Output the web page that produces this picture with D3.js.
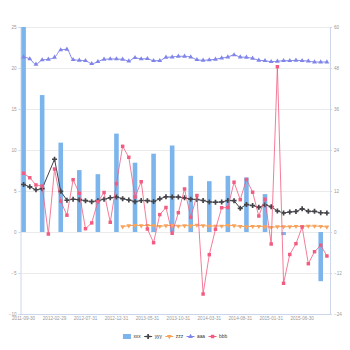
<!DOCTYPE html>
<html>
<head>
<meta charset="utf-8">
<script src="https://cdn.jsdelivr.net/npm/d3@7"></script>
<style>
  html, body { margin: 0; padding: 0; background: #fff; }
  svg { display: block; font-family: "Liberation Sans", Arial, sans-serif; }
</style>
</head>
<body>
<svg id="chart" width="350" height="350"></svg>
<script>
// Monthly categories (month-end dates)
const categories = [
  "2011-09-30","2011-10-31","2011-11-30","2011-12-31","2012-01-31","2012-02-29",
  "2012-03-31","2012-04-30","2012-05-31","2012-06-30","2012-07-31","2012-08-31",
  "2012-09-30","2012-10-31","2012-11-30","2012-12-31","2013-01-31","2013-02-28",
  "2013-03-31","2013-04-30","2013-05-31","2013-06-30","2013-07-31","2013-08-31",
  "2013-09-30","2013-10-31","2013-11-30","2013-12-31","2014-01-31","2014-02-28",
  "2014-03-31","2014-04-30","2014-05-31","2014-06-30","2014-07-31","2014-08-31",
  "2014-09-30","2014-10-31","2014-11-30","2014-12-31","2015-01-31","2015-02-28",
  "2015-03-31","2015-04-30","2015-05-31","2015-06-30","2015-07-31","2015-08-31",
  "2015-09-30","2015-10-31"
];

// Labels shown on the category axis
const xTickLabels = [
  "2011-09-30","2012-02-29","2012-07-31","2012-12-31","2013-05-31",
  "2013-10-31","2014-03-31","2014-08-31","2015-01-31","2015-06-30"
];

// Quarterly bars (left axis)
const xxx = [
  25, null, null, 16.7, null, null, 10.9, null, null, 7.55,
  null, null, 7.05, null, null, 12.0, null, null, 8.45, null,
  null, 9.55, null, null, 10.55, null, null, 6.85, null, null,
  6.2, null, null, 6.85, null, null, 6.65, null, null, 4.62,
  null, null, -0.38, null, null, null, null, null, -6.0, null
];

// Left axis line series
const yyy = [
  5.79, 5.51, 5.15, 5.28, null, 8.87, 4.96, 3.87, 3.99, 3.94,
  3.82, 3.70, 3.82, 3.99, 4.18, 4.27, 4.06, 3.90, 3.70, 3.84,
  3.82, 3.72, 4.05, 4.30, 4.27, 4.27, 4.17, 4.00, 3.96, 3.84,
  3.66, 3.63, 3.66, 3.84, 3.82, 2.89, 3.35, 3.23, 3.01, 3.32,
  3.09, 2.56, 2.32, 2.44, 2.50, 2.83, 2.52, 2.52, 2.35, 2.32
];

const zzz = [
  null, null, null, null, null, null, null, null, null, null,
  null, null, null, null, null, null, 0.65, 0.77, 0.81, 0.77,
  0.81, 0.77, 0.69, 0.77, 0.81, 0.73, 0.77, 0.77, 0.85, 0.77,
  0.73, 0.73, 0.73, 0.81, 0.77, 0.69, 0.65, 0.69, 0.69, 0.65,
  0.57, 0.65, 0.65, 0.65, 0.69, 0.69, 0.73, 0.73, 0.69, 0.61
];

const aaa = [
  21.34, 21.10, 20.45, 20.98, 21.06, 21.30, 22.20, 22.28, 21.01, 20.94,
  20.89, 20.52, 20.77, 21.06, 21.10, 21.10, 21.06, 20.85, 21.26, 21.10,
  21.13, 20.89, 20.89, 21.30, 21.34, 21.43, 21.43, 21.34, 21.01, 20.94,
  20.98, 21.06, 21.22, 21.34, 21.59, 21.34, 21.30, 21.18, 20.94, 20.89,
  20.77, 20.82, 20.89, 20.89, 20.94, 20.89, 20.85, 20.73, 20.73, 20.73
];

// Right axis series
const bbb = [
  17.18, 15.89, 13.76, 13.46, -0.59, 18.44, 8.99, 4.92, 15.31, 11.33,
  0.97, 2.66, 8.87, 11.56, 2.84, 14.14, 25.08, 21.86, 10.24, 14.72,
  0.88, -3.13, 5.09, 7.17, -0.38, 5.65, 12.59, 4.30, 10.68, -18.15,
  -6.64, 0.79, 7.11, 7.17, 14.58, 9.45, 15.37, 11.65, 4.68, 9.60,
  -3.51, 48.38, -15.01, -6.59, -3.42, 1.46, -9.28, -5.77, -3.86, -7.02
];

const leftTicks = [-10, -5, 0, 5, 10, 15, 20, 25];
const rightTicks = [-24, -12, 0, 12, 24, 36, 48, 60];

const colors = {
  xxx: "#7cb5ec",
  yyy: "#434348",
  zzz: "#f7a35c",
  aaa: "#8085e9",
  bbb: "#f15c80"
};

const svg = d3.select("#chart");
const plot = { left: 20.5, right: 330, top: 27, bottom: 314 };

const x = d3.scaleBand().domain(categories).range([plot.left, plot.right]);
const yL = d3.scaleLinear().domain([-10, 25]).range([plot.bottom, plot.top]);
const yR = d3.scaleLinear().domain([-24, 60]).range([plot.bottom, plot.top]);
const cx = d => x(d) + x.bandwidth() / 2;

// Horizontal grid lines
svg.append("g")
  .selectAll("line")
  .data(leftTicks)
  .join("line")
  .attr("x1", plot.left).attr("x2", plot.right)
  .attr("y1", d => Math.round(yL(d)) + 0.5)
  .attr("y2", d => Math.round(yL(d)) + 0.5)
  .attr("stroke", "#ebebeb")
  .attr("stroke-width", 1);

// Axes
const tickFont = 4.6;
const axisColor = "#ccd6eb";

const leftAxis = svg.append("g")
  .attr("transform", `translate(${plot.left},0)`)
  .call(d3.axisLeft(yL).tickValues(leftTicks).tickSize(2).tickPadding(2));
const rightAxis = svg.append("g")
  .attr("transform", `translate(${plot.right},0)`)
  .call(d3.axisRight(yR).tickValues(rightTicks).tickSize(2).tickPadding(2));
const bottomAxis = svg.append("g")
  .attr("transform", `translate(0,${plot.bottom})`)
  .call(d3.axisBottom(x).tickValues(xTickLabels).tickSize(0).tickPadding(3));

[leftAxis, rightAxis, bottomAxis].forEach(g => {
  g.select(".domain").attr("stroke", axisColor);
  g.selectAll(".tick line").attr("stroke", axisColor);
  g.selectAll(".tick text")
    .attr("fill", "#999")
    .attr("font-size", tickFont)
    .attr("font-family", "Liberation Sans, Arial, sans-serif");
});

// Bars
const barW = x.bandwidth() * 0.74;
svg.append("g")
  .selectAll("rect")
  .data(categories.map((c, i) => ({ c, v: xxx[i] })).filter(d => d.v != null))
  .join("rect")
  .attr("x", d => cx(d.c) - barW / 2)
  .attr("width", barW)
  .attr("y", d => Math.min(yL(d.v), yL(0)))
  .attr("height", d => Math.abs(yL(d.v) - yL(0)))
  .attr("fill", colors.xxx);

// Line series with markers; missing values are skipped and the line joins across them
function drawSeries(values, scale, color, symbol, size, rot, curve, lineOpacity) {
  const pts = categories.map((c, i) => ({ c, v: values[i] })).filter(d => d.v != null);
  const line = d3.line()
    .x(d => cx(d.c))
    .y(d => scale(d.v))
    .curve(curve);
  const g = svg.append("g");
  g.append("path")
    .attr("d", line(pts))
    .attr("fill", "none")
    .attr("stroke", color)
    .attr("stroke-opacity", lineOpacity)
    .attr("stroke-width", 1);
  g.selectAll("path.pt")
    .data(pts)
    .join("path")
    .attr("class", "pt")
    .attr("transform", d => `translate(${cx(d.c)},${scale(d.v)}) rotate(${rot})`)
    .attr("d", d3.symbol().type(symbol).size(size))
    .attr("fill", color);
}

drawSeries(zzz, yL, colors.zzz, d3.symbolTriangle, 10, 180, d3.curveLinear, 1);
drawSeries(aaa, yL, colors.aaa, d3.symbolTriangle, 10, 0, d3.curveMonotoneX, 1);
drawSeries(yyy, yL, colors.yyy, d3.symbolCross, 14, 0, d3.curveLinear, 1);
drawSeries(bbb, yR, colors.bbb, d3.symbolSquare, 12, 0, d3.curveLinear, 0.8);

// Legend
const legendItems = [
  { name: "xxx", type: "bar", color: colors.xxx },
  { name: "yyy", type: "line", color: colors.yyy, symbol: d3.symbolCross, size: 14, rot: 0 },
  { name: "zzz", type: "line", color: colors.zzz, symbol: d3.symbolTriangle, size: 10, rot: 180 },
  { name: "aaa", type: "line", color: colors.aaa, symbol: d3.symbolTriangle, size: 10, rot: 0 },
  { name: "bbb", type: "line", color: colors.bbb, symbol: d3.symbolSquare, size: 12, rot: 0 }
];
const legend = svg.append("g");
let lx = 0;
const ly = 336.5;
legendItems.forEach(it => {
  const g = legend.append("g").attr("transform", `translate(${lx},0)`);
  if (it.type === "bar") {
    g.append("rect").attr("x", 0).attr("y", ly - 2.5).attr("width", 8).attr("height", 5)
      .attr("fill", it.color);
  } else {
    g.append("line").attr("x1", 0).attr("x2", 8).attr("y1", ly).attr("y2", ly)
      .attr("stroke", it.color).attr("stroke-width", 1);
    g.append("path")
      .attr("transform", `translate(4,${ly}) rotate(${it.rot})`)
      .attr("d", d3.symbol().type(it.symbol).size(it.size))
      .attr("fill", it.color);
  }
  const t = g.append("text")
    .attr("x", 10.5).attr("y", ly)
    .attr("dy", "0.35em")
    .attr("font-size", 4.8)
    .attr("fill", "#333")
    .text(it.name);
  lx += 10.5 + t.node().getComputedTextLength() + 3.5;
});
const lw = lx - 3.5;
legend.attr("transform", `translate(${175 - lw / 2},0)`);
</script>
</body>
</html>
